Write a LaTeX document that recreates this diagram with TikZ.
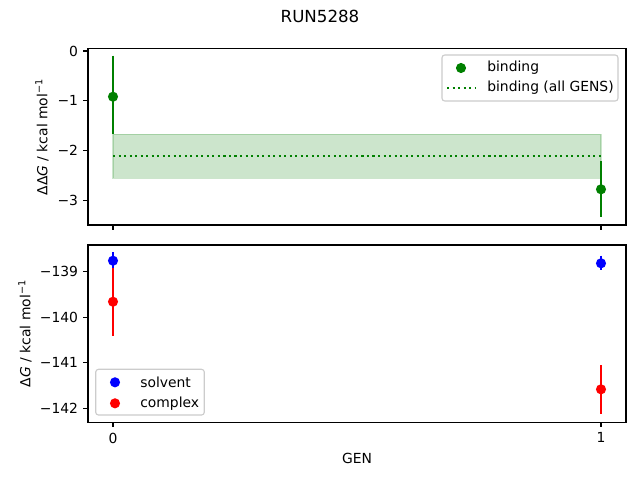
\documentclass[tikz,border=0pt]{standalone}
\usepackage{fontspec}
\setmainfont{DejaVu Sans}
\definecolor{mgreen}{HTML}{008000}
\definecolor{mblue}{HTML}{0000FF}
\definecolor{mred}{HTML}{FF0000}
\definecolor{legedge}{HTML}{CCCCCC}
\begin{document}
\begin{tikzpicture}[x=0.72pt,y=-0.72pt,
  axisline/.style={line width=0.8pt,black},
  tickmark/.style={line width=0.8pt,black},
  ticklab/.style={font=\fontsize{10}{12}\selectfont,inner sep=0pt},
  errbar/.style={line width=1.5pt},
  dot/.style={circle,inner sep=0pt,minimum size=7.3pt},
  legbox/.style={draw=legedge,fill=white,fill opacity=0.8,rounded corners=2pt,line width=0.8pt},
  labtext/.style={font=\fontsize{10}{12}\selectfont,inner sep=0pt}]
\useasboundingbox (0,0) rectangle (640,480);
\fill[white] (0,0) rectangle (640,480);
% title
\node[font=\fontsize{12}{14}\selectfont,inner sep=0pt] (title) at (320,16) {RUN5288};

% ===== top axes =====
% band
\fill[mgreen,fill opacity=0.2] (113,134.3) rectangle (601,178.3);
\draw[mgreen,opacity=0.2,line width=1pt] (113,134.3) rectangle (601,178.3);
\draw[mgreen,line width=1.5pt,dash pattern=on 1.5pt off 2.475pt] (113,156) -- (601,156);
% error bars
\draw[errbar,mgreen] (113,55.7) -- (113,134.3);
\draw[errbar,mgreen] (601,161) -- (601,216.7);
\node[dot,fill=mgreen] (b0) at (113,96.7) {};
\node[dot,fill=mgreen] (b1) at (601,189.3) {};
% frame
\draw[axisline] (88,48.5) rectangle (626,225);
% y ticks
\foreach \v/\p in {0/51,−1/100.9,−2/150.8,−3/200.7}{
  \draw[tickmark] (88,\p) -- ++(-4.86,0);
  \node[ticklab,anchor=east] at (78.3,\p) {\v};
}
% x ticks (no labels)
\draw[tickmark] (113,225) -- ++(0,4.86);
\draw[tickmark] (601,225) -- ++(0,4.86);
% y label
\node[labtext,rotate=90] (ylab1) at (42,137) {ΔΔ\textit{G} / kcal mol\textsuperscript{−1}};
% legend
\draw[legbox] (442,55) rectangle (618,101);
\node[dot,fill=mgreen] (lg1) at (461,68) {};
\draw[mgreen,line width=1.5pt,dash pattern=on 1.5pt off 2.475pt] (447,87.7) -- (475,87.7);
\node[labtext,anchor=west] (lt1) at (487,68) {binding};
\node[labtext,anchor=west] (lt2) at (487,87.7) {binding (all GENS)};

% ===== bottom axes =====
\draw[errbar,mred] (113,267.7) -- (113,335.7);
\draw[errbar,mblue] (113,252.3) -- (113,268);
\node[dot,fill=mred] (c0) at (113,301.7) {};
\node[dot,fill=mblue] (s0) at (113,260.7) {};
\draw[errbar,mblue] (601,255.7) -- (601,270);
\node[dot,fill=mblue] (s1) at (601,263.3) {};
\draw[errbar,mred] (601,365) -- (601,414);
\node[dot,fill=mred] (c1) at (601,389.3) {};
\draw[axisline] (88,245) rectangle (626,422.3);
\foreach \v/\p in {−139/271.7,−140/317.3,−141/362.8,−142/408.3}{
  \draw[tickmark] (88,\p) -- ++(-4.86,0);
  \node[ticklab,anchor=east] at (78.3,\p) {\v};
}
\foreach \v/\p in {0/113,1/601}{
  \draw[tickmark] (\p,422.3) -- ++(0,4.86);
  \node[ticklab,anchor=north] at (\p,432.5) {\v};
}
\node[labtext,rotate=90] (ylab2) at (25,333.5) {Δ\textit{G} / kcal mol\textsuperscript{−1}};
\node[labtext] (xlab) at (357,458) {GEN};
% legend
\draw[legbox] (95.7,369.3) rectangle (204.3,415);
\node[dot,fill=mblue] (lg2) at (115,382.3) {};
\node[dot,fill=mred] (lg3) at (115,403.3) {};
\node[labtext,anchor=west] (lt3) at (140,382.3) {solvent};
\node[labtext,anchor=west] (lt4) at (140,403.3) {complex};
\end{tikzpicture}
\end{document}
